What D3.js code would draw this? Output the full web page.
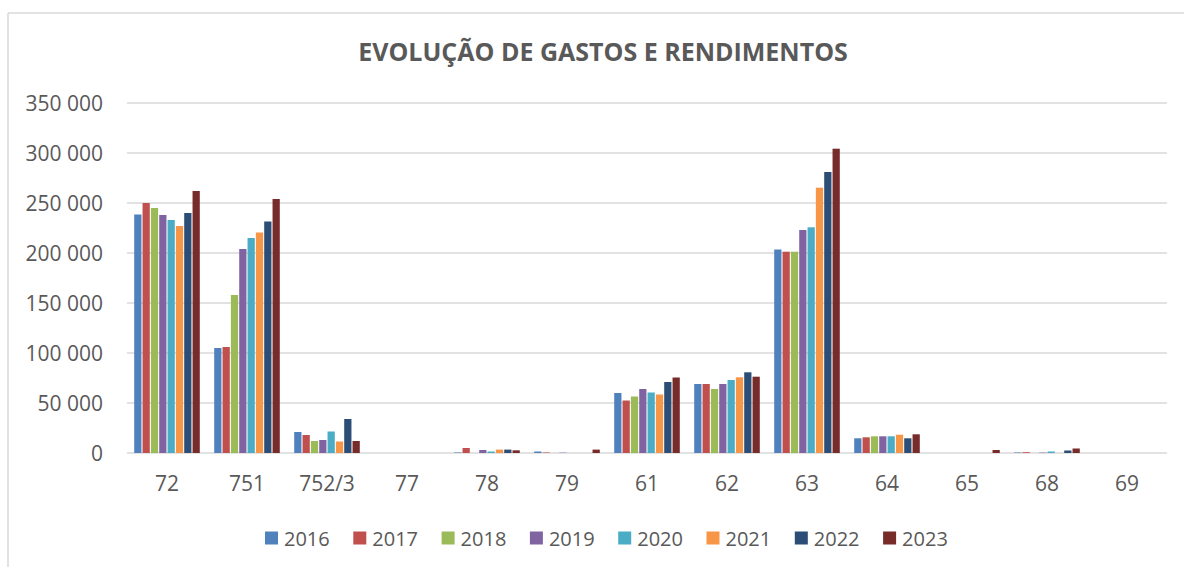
<!DOCTYPE html>
<html>
<head>
<meta charset="utf-8">
<script src="https://cdnjs.cloudflare.com/ajax/libs/d3/7.8.5/d3.min.js"></script>
<style>
  html, body { margin: 0; padding: 0; background: #ffffff; }
  svg { display: block; }
  text { font-family: "Open Sans", "Noto Sans", sans-serif; fill: #595959; }
</style>
</head>
<body>
<svg id="chart" width="1184" height="567"></svg>
<script>
const title = "EVOLUÇÃO DE GASTOS E RENDIMENTOS";
const categories = ["72", "751", "752/3", "77", "78", "79", "61", "62", "63", "64", "65", "68", "69"];
const years = ["2016", "2017", "2018", "2019", "2020", "2021", "2022", "2023"];
const colors = ["#4F81BD", "#C0504D", "#9BBB59", "#8064A2", "#4BACC6", "#F79646", "#2C4D75", "#772C2A"];
const yTicks = [0, 50000, 100000, 150000, 200000, 250000, 300000, 350000];

// values per year, in category order
const v2016 = [238500, 105000, 21000, 0, 500, 1500, 60000, 69000, 203500, 14700, 0, 500, 0];
const v2017 = [250000, 106000, 18000, 0, 5000, 500, 52500, 69000, 201300, 15700, 0, 800, 0];
const v2018 = [245000, 158000, 12000, 0, 0, 0, 56500, 64000, 201300, 16700, 0, 0, 0];
const v2019 = [238000, 204000, 13000, 0, 3000, 300, 64000, 69000, 223000, 16700, 0, 400, 0];
const v2020 = [233000, 215000, 21500, 0, 1500, 0, 60500, 73000, 225700, 16700, 0, 1500, 0];
const v2021 = [227000, 220500, 11500, 0, 3400, 0, 58500, 75700, 265300, 18300, 0, 0, 0];
const v2022 = [240000, 231500, 34000, 0, 3400, 0, 71000, 80700, 281000, 14700, 0, 2500, 0];
const v2023 = [262000, 254000, 12000, 0, 2700, 3400, 75500, 76300, 304300, 18700, 3000, 4500, 0];
const series = [v2016, v2017, v2018, v2019, v2020, v2021, v2022, v2023];

const svg = d3.select("#chart");
const grid = "#d9d9d9";

// outer frame
svg.append("line").attr("x1", 8).attr("x2", 8).attr("y1", 13).attr("y2", 567)
  .attr("stroke", grid).attr("stroke-width", 1.5);
svg.append("line").attr("x1", 8).attr("x2", 1184).attr("y1", 13).attr("y2", 13)
  .attr("stroke", grid).attr("stroke-width", 1.5);

const x0 = d3.scaleBand().domain(categories).range([127, 1167]).paddingInner(0).paddingOuter(0);
const x1 = d3.scaleBand().domain(years).range([0, x0.bandwidth()]).paddingInner(0.13).paddingOuter(0.865);
const y = d3.scaleLinear().domain([0, 350000]).range([453, 103]);

// gridlines
svg.append("g").selectAll("line").data(yTicks).join("line")
  .attr("x1", 127).attr("x2", 1167)
  .attr("y1", d => y(d)).attr("y2", d => y(d))
  .attr("stroke", grid).attr("stroke-width", 1.5);

// y labels
const fmt = d => d3.format(",")(d).replace(/,/g, " ");
svg.append("g").selectAll("text").data(yTicks).join("text")
  .attr("x", 103).attr("y", d => y(d))
  .attr("text-anchor", "end").attr("dominant-baseline", "central")
  .style("font-size", "21px")
  .text(d => fmt(d));

// bars
const groups = svg.append("g").selectAll("g").data(years).join("g")
  .attr("fill", (d, i) => colors[i]);
groups.selectAll("rect")
  .data((yr, i) => categories.map((c, j) => ({ c, yr, v: series[i][j] })))
  .join("rect")
  .attr("x", d => x0(d.c) + x1(d.yr))
  .attr("width", x1.bandwidth())
  .attr("y", d => y(d.v))
  .attr("height", d => y(0) - y(d.v));

// x labels
svg.append("g").selectAll("text").data(categories).join("text")
  .attr("x", d => x0(d) + x0.bandwidth() / 2)
  .attr("y", 483)
  .attr("text-anchor", "middle").attr("dominant-baseline", "central")
  .style("font-size", "21px")
  .text(d => d);

// title
svg.append("text").attr("x", 603).attr("y", 51)
  .attr("text-anchor", "middle").attr("dominant-baseline", "central")
  .style("font-size", "25px").style("font-weight", "bold")
  .text(title);

// legend
const leg = svg.append("g").selectAll("g").data(years).join("g")
  .attr("transform", (d, i) => `translate(${265 + i * 88.3},538)`);
leg.append("rect").attr("x", 0).attr("y", -6.5).attr("width", 13).attr("height", 13)
  .attr("fill", (d, i) => colors[i]);
leg.append("text").attr("x", 19).attr("y", 0).attr("dominant-baseline", "central")
  .style("font-size", "20px").text(d => d);
</script>
</body>
</html>
